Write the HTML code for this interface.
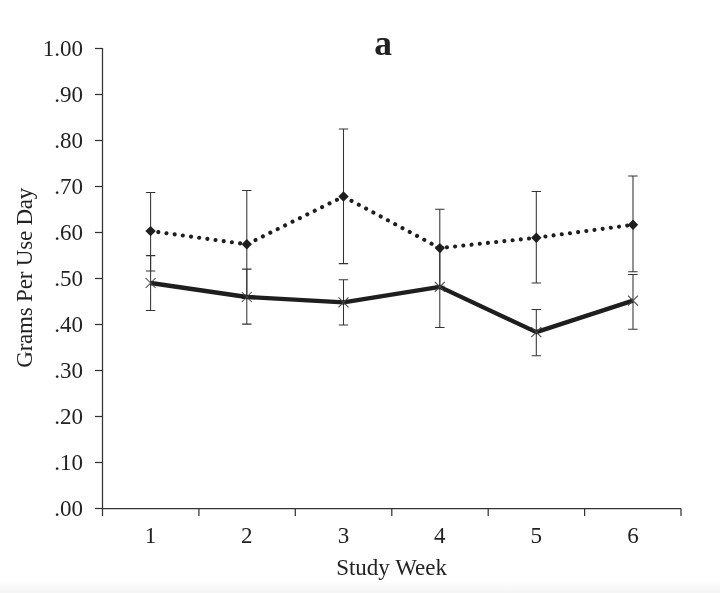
<!DOCTYPE html>
<html><head><meta charset="utf-8"><title>a</title>
<style>
html,body{margin:0;padding:0;background:#fff;}
body{width:720px;height:593px;overflow:hidden;position:relative;font-family:"Liberation Serif","DejaVu Serif",serif;}
svg{position:absolute;left:0;top:0;display:block}
text{font-family:"Liberation Serif","DejaVu Serif",serif;fill:#222;}
</style></head><body>
<svg width="720" height="593" viewBox="0 0 720 593">
<defs><linearGradient id="g" x1="0" y1="0" x2="0" y2="1"><stop offset="0" stop-color="#ffffff"/><stop offset="1" stop-color="#f4f4f4"/></linearGradient></defs>
<rect x="0" y="0" width="720" height="593" fill="#fff"/>
<rect x="0" y="580" width="720" height="13" fill="url(#g)"/>

<g stroke="#333" stroke-width="1.25" fill="none">
<path d="M102.5 48.0V508.5H681.0"/>
<path d="M95.0 508.5H102.5"/>
<path d="M95.0 462.5H102.5"/>
<path d="M95.0 416.5H102.5"/>
<path d="M95.0 370.5H102.5"/>
<path d="M95.0 324.5H102.5"/>
<path d="M95.0 278.5H102.5"/>
<path d="M95.0 232.5H102.5"/>
<path d="M95.0 186.5H102.5"/>
<path d="M95.0 140.5H102.5"/>
<path d="M95.0 94.5H102.5"/>
<path d="M95.0 48.5H102.5"/>
<path d="M102.5 508.5V516.0"/>
<path d="M198.9 508.5V516.0"/>
<path d="M295.3 508.5V516.0"/>
<path d="M391.8 508.5V516.0"/>
<path d="M488.2 508.5V516.0"/>
<path d="M584.6 508.5V516.0"/>
<path d="M681.0 508.5V516.0"/>
</g>
<text x="83" y="515.7" font-size="23" text-anchor="end">.00</text>
<text x="83" y="469.7" font-size="23" text-anchor="end">.10</text>
<text x="83" y="423.7" font-size="23" text-anchor="end">.20</text>
<text x="83" y="377.7" font-size="23" text-anchor="end">.30</text>
<text x="83" y="331.7" font-size="23" text-anchor="end">.40</text>
<text x="83" y="285.7" font-size="23" text-anchor="end">.50</text>
<text x="83" y="239.7" font-size="23" text-anchor="end">.60</text>
<text x="83" y="193.7" font-size="23" text-anchor="end">.70</text>
<text x="83" y="147.7" font-size="23" text-anchor="end">.80</text>
<text x="83" y="101.7" font-size="23" text-anchor="end">.90</text>
<text x="83" y="55.7" font-size="23" text-anchor="end">1.00</text>
<text x="150.6" y="543" font-size="23" text-anchor="middle">1</text>
<text x="246.8" y="543" font-size="23" text-anchor="middle">2</text>
<text x="343.5" y="543" font-size="23" text-anchor="middle">3</text>
<text x="439.8" y="543" font-size="23" text-anchor="middle">4</text>
<text x="536.3" y="543" font-size="23" text-anchor="middle">5</text>
<text x="633.0" y="543" font-size="23" text-anchor="middle">6</text>
<text x="391.6" y="574.6" font-size="23" text-anchor="middle">Study Week</text>
<text transform="translate(31.5 277.8) rotate(-90)" font-size="23" letter-spacing="-0.2" text-anchor="middle">Grams Per Use Day</text>
<text x="383.1" y="54.6" font-size="35.5" font-weight="bold" text-anchor="middle" fill="#1c1c1c">a</text>
<g stroke="#333" stroke-width="1.05" fill="none">
<path d="M150.6 192.4V270.9M145.9 192.4h9.4M145.9 270.9h9.4"/>
<path d="M246.8 190.4V298.4M242.1 190.4h9.4M242.1 298.4h9.4"/>
<path d="M343.5 129.0V263.6M338.8 129.0h9.4M338.8 263.6h9.4"/>
<path d="M439.8 209.3V286.3M435.1 209.3h9.4M435.1 286.3h9.4"/>
<path d="M536.3 191.5V283.0M531.6 191.5h9.4M531.6 283.0h9.4"/>
<path d="M633.0 176.0V271.8M628.2 176.0h9.4M628.2 271.8h9.4"/>
<path d="M150.6 255.6V310.4M145.9 255.6h9.4M145.9 310.4h9.4"/>
<path d="M246.8 269.1V324.1M242.1 269.1h9.4M242.1 324.1h9.4"/>
<path d="M343.5 279.7V324.9M338.8 279.7h9.4M338.8 324.9h9.4"/>
<path d="M439.8 247.0V327.4M435.1 247.0h9.4M435.1 327.4h9.4"/>
<path d="M536.3 309.5V355.7M531.6 309.5h9.4M531.6 355.7h9.4"/>
<path d="M633.0 274.5V329.3M628.2 274.5h9.4M628.2 329.3h9.4"/>
</g>
<polyline points="150.6,283.0 246.8,297.0 343.5,302.4 439.8,286.9 536.3,332.1 633.0,300.6" fill="none" stroke="#1e1e1e" stroke-width="4.3" stroke-linejoin="round"/>
<g stroke="#444" stroke-width="1.05" fill="none">
<path d="M145.6 278.0l10 10M145.6 288.0l10 -10"/>
<path d="M241.8 292.0l10 10M241.8 302.0l10 -10"/>
<path d="M338.5 297.4l10 10M338.5 307.4l10 -10"/>
<path d="M434.8 281.9l10 10M434.8 291.9l10 -10"/>
<path d="M531.3 327.1l10 10M531.3 337.1l10 -10"/>
<path d="M628.0 295.6l10 10M628.0 305.6l10 -10"/>
</g>
<polyline points="150.6,231.1 246.8,244.3 343.5,196.5 439.8,248.1 536.3,237.7 633.0,224.8" fill="none" stroke="#1e1e1e" stroke-width="4.1" stroke-linecap="round" stroke-linejoin="round" stroke-dasharray="0.01 8.244" stroke-dashoffset="0.5"/>
<path d="M150.6 225.9l5.2 5.2l-5.2 5.2l-5.2 -5.2z" fill="#1e1e1e"/>
<path d="M246.8 239.10000000000002l5.2 5.2l-5.2 5.2l-5.2 -5.2z" fill="#1e1e1e"/>
<path d="M343.5 191.3l5.2 5.2l-5.2 5.2l-5.2 -5.2z" fill="#1e1e1e"/>
<path d="M439.8 242.9l5.2 5.2l-5.2 5.2l-5.2 -5.2z" fill="#1e1e1e"/>
<path d="M536.3 232.5l5.2 5.2l-5.2 5.2l-5.2 -5.2z" fill="#1e1e1e"/>
<path d="M633.0 219.60000000000002l5.2 5.2l-5.2 5.2l-5.2 -5.2z" fill="#1e1e1e"/>
</svg>
</body></html>
